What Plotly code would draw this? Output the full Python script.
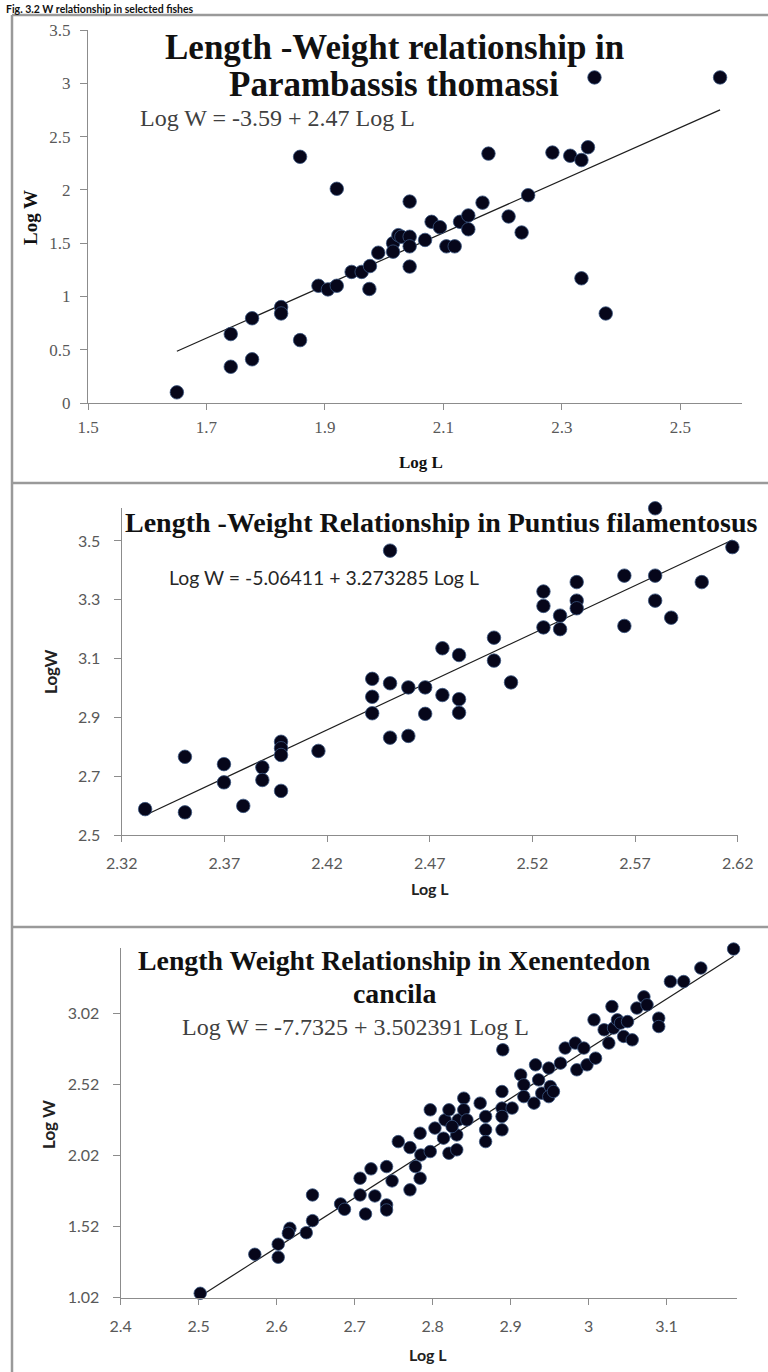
import plotly.graph_objects as go

# ---------------- data ----------------
x1 = [1.650, 1.741, 1.741, 1.777, 1.777, 1.826, 1.826, 1.858, 1.858, 1.889, 1.905, 1.920,
      1.920, 1.945, 1.962, 1.976, 1.975, 1.990, 2.015, 2.015, 2.024, 2.029, 2.043, 2.043,
      2.043, 2.043, 2.069, 2.080, 2.094, 2.105, 2.119, 2.128, 2.142, 2.142, 2.166, 2.176,
      2.210, 2.232, 2.243, 2.284, 2.314, 2.333, 2.344, 2.355, 2.333, 2.374, 2.567]
y1 = [0.10, 0.647, 0.34, 0.795, 0.41, 0.90, 0.84, 0.59, 2.31, 1.10, 1.066, 1.10,
      2.01, 1.23, 1.23, 1.285, 1.07, 1.41, 1.50, 1.42, 1.575, 1.56, 1.56, 1.47,
      1.89, 1.28, 1.53, 1.70, 1.65, 1.47, 1.47, 1.70, 1.76, 1.63, 1.88, 2.34,
      1.75, 1.60, 1.95, 2.35, 2.32, 2.28, 2.40, 3.055, 1.17, 0.84, 3.055]
coef1 = [-3.59, 2.47]

x2 = [2.3314, 2.3508, 2.3508, 2.3698, 2.3698, 2.3792, 2.3885, 2.3885, 2.3976, 2.3976,
      2.3976, 2.3976, 2.4158, 2.4420, 2.4420, 2.4420, 2.4507, 2.4507, 2.4507, 2.4596,
      2.4596, 2.4678, 2.4678, 2.4762, 2.4762, 2.4843, 2.4843, 2.4843, 2.5013, 2.5013,
      2.5096, 2.5254, 2.5254, 2.5254, 2.5335, 2.5335, 2.5416, 2.5416, 2.5416, 2.5648,
      2.5648, 2.5798, 2.5798, 2.5798, 2.5876, 2.6025, 2.6174]
y2 = [2.588, 2.766, 2.577, 2.741, 2.679, 2.599, 2.730, 2.687, 2.817, 2.795,
      2.772, 2.650, 2.786, 3.031, 2.970, 2.914, 3.016, 2.831, 3.467, 3.002,
      2.837, 3.002, 2.912, 3.135, 2.976, 3.112, 2.962, 2.916, 3.171, 3.093,
      3.019, 3.328, 3.279, 3.206, 3.246, 3.200, 3.360, 3.297, 3.271, 3.382,
      3.211, 3.382, 3.297, 3.611, 3.239, 3.360, 3.479]
coef2 = [-5.06411, 3.273285]

x3 = [2.502, 2.572, 2.602, 2.602, 2.617, 2.615, 2.638, 2.646, 2.646, 2.682,
      2.687, 2.707, 2.707, 2.721, 2.714, 2.726, 2.741, 2.748, 2.741, 2.741,
      2.756, 2.771, 2.784, 2.771, 2.778, 2.785, 2.784, 2.797, 2.797, 2.803,
      2.814, 2.816, 2.821, 2.821, 2.831, 2.831, 2.833, 2.840, 2.840, 2.844,
      2.825, 2.861, 2.868, 2.868, 2.868, 2.890, 2.889, 2.889, 2.889, 2.889,
      2.902, 2.913, 2.917, 2.917, 2.932, 2.936, 2.930, 2.940, 2.949, 2.951,
      2.949, 2.955, 2.964, 2.970, 2.983, 2.985, 2.994, 2.998, 3.009, 3.007,
      3.020, 3.026, 3.030, 3.032, 3.037, 3.041, 3.045, 3.050, 3.056, 3.062,
      3.071, 3.075, 3.090, 3.090, 3.105, 3.122, 3.144, 3.186]
y3 = [1.051, 1.326, 1.397, 1.305, 1.509, 1.474, 1.478, 1.563, 1.744, 1.681,
      1.643, 1.862, 1.744, 1.928, 1.610, 1.737, 1.944, 1.843, 1.674, 1.638,
      2.120, 1.780, 1.862, 2.078, 1.944, 2.026, 2.179, 2.050, 2.344, 2.215,
      2.144, 2.273, 2.344, 2.038, 2.062, 2.167, 2.273, 2.426, 2.344, 2.273,
      2.226, 2.391, 2.297, 2.203, 2.120, 2.767, 2.473, 2.356, 2.297, 2.203,
      2.356, 2.590, 2.520, 2.437, 2.661, 2.555, 2.391, 2.461, 2.638, 2.508,
      2.437, 2.473, 2.673, 2.779, 2.814, 2.626, 2.779, 2.661, 2.708, 2.978,
      2.908, 2.814, 3.072, 2.920, 2.978, 2.955, 2.861, 2.966, 2.837, 3.061,
      3.140, 3.084, 2.990, 2.931, 3.248, 3.248, 3.343, 3.477]
coef3 = [-7.7325, 3.502391]

xt1 = ["1.5", "1.7", "1.9", "2.1", "2.3", "2.5"]
yt1 = ["0", "0.5", "1", "1.5", "2", "2.5", "3", "3.5"]
xt2 = ["2.32", "2.37", "2.42", "2.47", "2.52", "2.57", "2.62"]
yt2 = ["2.5", "2.7", "2.9", "3.1", "3.3", "3.5"]
xt3 = ["2.4", "2.5", "2.6", "2.7", "2.8", "2.9", "3", "3.1"]
yt3 = ["1.02", "1.52", "2.02", "2.52", "3.02"]

W, H = 768, 1372
def fx(p):
    return p / W
def fy(p):
    return 1 - p / H

SERIF = "Liberation Serif"
SANS = "Lato"
AX = "#8c8c8c"
MK = dict(color="#06061a", line=dict(color="#3a5580", width=0.8))

fig = go.Figure()

panels = [
    (x1, y1, coef1, "x", "y", 13.5),
    (x2, y2, coef2, "x2", "y2", 13.5),
    (x3, y3, coef3, "x3", "y3", 12.5),
]
for xs, ys, c, xa, ya, ms in panels:
    lx = [min(xs), max(xs)]
    ly = [c[0] + c[1] * v for v in lx]
    fig.add_trace(go.Scatter(x=lx, y=ly, mode="lines", line=dict(color="#1e1e1e", width=1.2),
                             xaxis=xa, yaxis=ya, showlegend=False, hoverinfo="skip"))
    fig.add_trace(go.Scatter(x=xs, y=ys, mode="markers", marker=dict(size=ms, **MK),
                             xaxis=xa, yaxis=ya, showlegend=False, cliponaxis=False))

def axis(domain, rng, text, font, anchor, standoff, ticklen):
    return dict(domain=domain, range=rng, tickmode="array",
                tickvals=[float(t) for t in text], ticktext=text,
                showline=True, linecolor=AX, linewidth=1.3, ticks="outside",
                ticklen=ticklen, tickcolor=AX, tickwidth=1, showgrid=False, zeroline=False,
                tickfont=font, anchor=anchor, ticklabelstandoff=standoff, fixedrange=True,
                automargin=False)

f1 = dict(family=SERIF, size=17, color="#595959")
f2 = dict(family=SANS, size=16, color="#595959")

fig.update_layout(
    template="none",
    width=W, height=H, margin=dict(l=0, r=0, t=0, b=0, pad=0, autoexpand=False),
    paper_bgcolor="white", plot_bgcolor="white",
    xaxis=axis([fx(88), fx(742)], [1.5, 2.604], xt1, f1, "y", 2, 6),
    yaxis=axis([fy(403), fy(30)], [0, 3.5], yt1, f1, "x", 6, 7),
    xaxis2=axis([fx(121.7), fx(737.7)], [2.32, 2.62], xt2, f2, "y2", 8, 6),
    yaxis2=axis([fy(835), fy(508)], [2.5, 3.612], yt2, f2, "x2", 10, 7),
    xaxis3=axis([fx(120.7), fx(736.7)], [2.4, 3.19], xt3, f2, "y3", 8, 6),
    yaxis3=axis([fy(1297.7), fy(947.9)], [1.02, 3.485], yt3, f2, "x3", 10, 7),
)

def ann(text, x, y, size, family, color="#111111", bold=False, xanchor="center", angle=0,
        yanchor="middle"):
    t = f"<b>{text}</b>" if bold else text
    fig.add_annotation(text=t, x=fx(x), y=fy(y), xref="paper", yref="paper",
                       xanchor=xanchor, yanchor=yanchor, showarrow=False, textangle=angle,
                       font=dict(family=family, size=size, color=color))

ann("Fig. 3.2 W relationship in selected fishes", 4, 0.5, 10.5, SANS, "#111111", True, "left",
    yanchor="top")

ann("Length -Weight relationship in", 394, 47, 35, SERIF, "#111111", True)
ann("Parambassis thomassi", 394, 85, 35, SERIF, "#111111", True)
ann("Log W = -3.59 + 2.47 Log L", 138, 118, 24, SERIF, "#404040", False, "left")
ann("Log W", 30, 218, 19, SERIF, "#111111", True, angle=-90)
ann("Log L", 421, 462, 17, SERIF, "#111111", True)

ann("Length -Weight Relationship in Puntius filamentosus", 441, 522, 28, SERIF, "#111111", True)
ann("Log W = -5.06411 + 3.273285 Log L", 167, 577, 19.4, SANS, "#262626", False, "left")
ann("LogW", 50, 672, 17, SANS, "#222222", True, angle=-90)
ann("Log L", 430, 888, 16, SANS, "#222222", True)

ann("Length Weight Relationship in Xenentedon", 394, 960, 27.8, SERIF, "#111111", True)
ann("cancila", 394, 993, 27.8, SERIF, "#111111", True)
ann("Log W = -7.7325 + 3.502391 Log L", 180, 1027, 24, SERIF, "#404040", False, "left")
ann("Log W", 48, 1125, 17, SANS, "#222222", True, angle=-90)
ann("Log L", 428, 1354, 16, SANS, "#222222", True)

BC = "#9a9a9a"
for y0 in [15, 483, 927]:
    fig.add_shape(type="line", xref="paper", yref="paper", x0=fx(12), x1=1.0,
                  y0=fy(y0), y1=fy(y0), line=dict(color=BC, width=2.5))
fig.add_shape(type="line", xref="paper", yref="paper", x0=fx(12), x1=fx(12),
              y0=fy(15), y1=0.0, line=dict(color=BC, width=2.5))

fig.write_html("out.html")
